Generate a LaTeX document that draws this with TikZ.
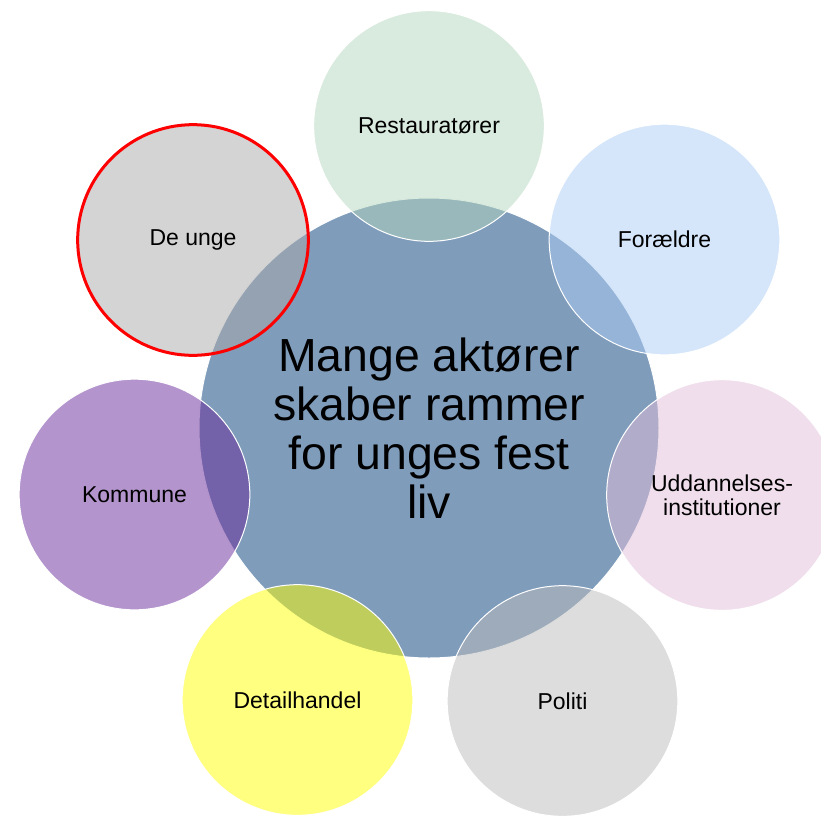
\documentclass[tikz,border=0pt]{standalone}
\usepackage{fontspec}
\setmainfont{Liberation Sans}

\definecolor{midtblaa}{RGB}{127,156,187}
\definecolor{restgroen}{RGB}{179,213,189}
\definecolor{foraeldreblaa}{RGB}{171,205,245}
\definecolor{uddrosa}{RGB}{225,189,217}
\definecolor{ungegraa}{RGB}{169,169,169}
\definecolor{kommunelilla}{RGB}{105,41,155}
\definecolor{detailgul}{RGB}{255,255,1}
\definecolor{politigraa}{RGB}{187,187,187}

\tikzset{
  boble/.style={circle, minimum size=173pt, inner sep=0pt, draw=white, line width=0.75pt,
    fill opacity=0.5, text opacity=1, align=center, font=\fontsize{17.25}{18}\selectfont},
  midtboble/.style={circle, minimum size=345pt, inner sep=0pt, draw=white, line width=0.75pt,
    align=center, font=\fontsize{34.8}{36.75}\selectfont}
}

\begin{document}
\begin{tikzpicture}[x=0.75pt,y=-0.75pt]
    \useasboundingbox (0,0) rectangle (821,815);

    % Dibuja el circulo central
    \node[midtboble, fill=midtblaa] (midte) at (429,428) {Mange aktører\\skaber rammer\\for unges fest\\liv};

    % Dibuja los circulos de los actores
    \foreach \navn/\px/\py/\farve/\tekst in {
        restauratoerer/429/126/restgroen/Restauratører,
        foraeldre/664.5/239.5/foraeldreblaa/Forældre,
        uddannelse/722/495/uddrosa/{Uddannelses-\\institutioner},
        politi/562.5/701/politigraa/Politi,
        detailhandel/297.5/700/detailgul/Detailhandel,
        kommune/134.5/494.5/kommunelilla/Kommune}
    \node[boble, fill=\farve] (\navn) at (\px,\py) {\tekst};

        % De unge, con borde rojo
        \node[boble, fill=ungegraa, draw=red, line width=2.25pt] (deunge) at (193,240) {De unge};
\end{tikzpicture}
\end{document}
